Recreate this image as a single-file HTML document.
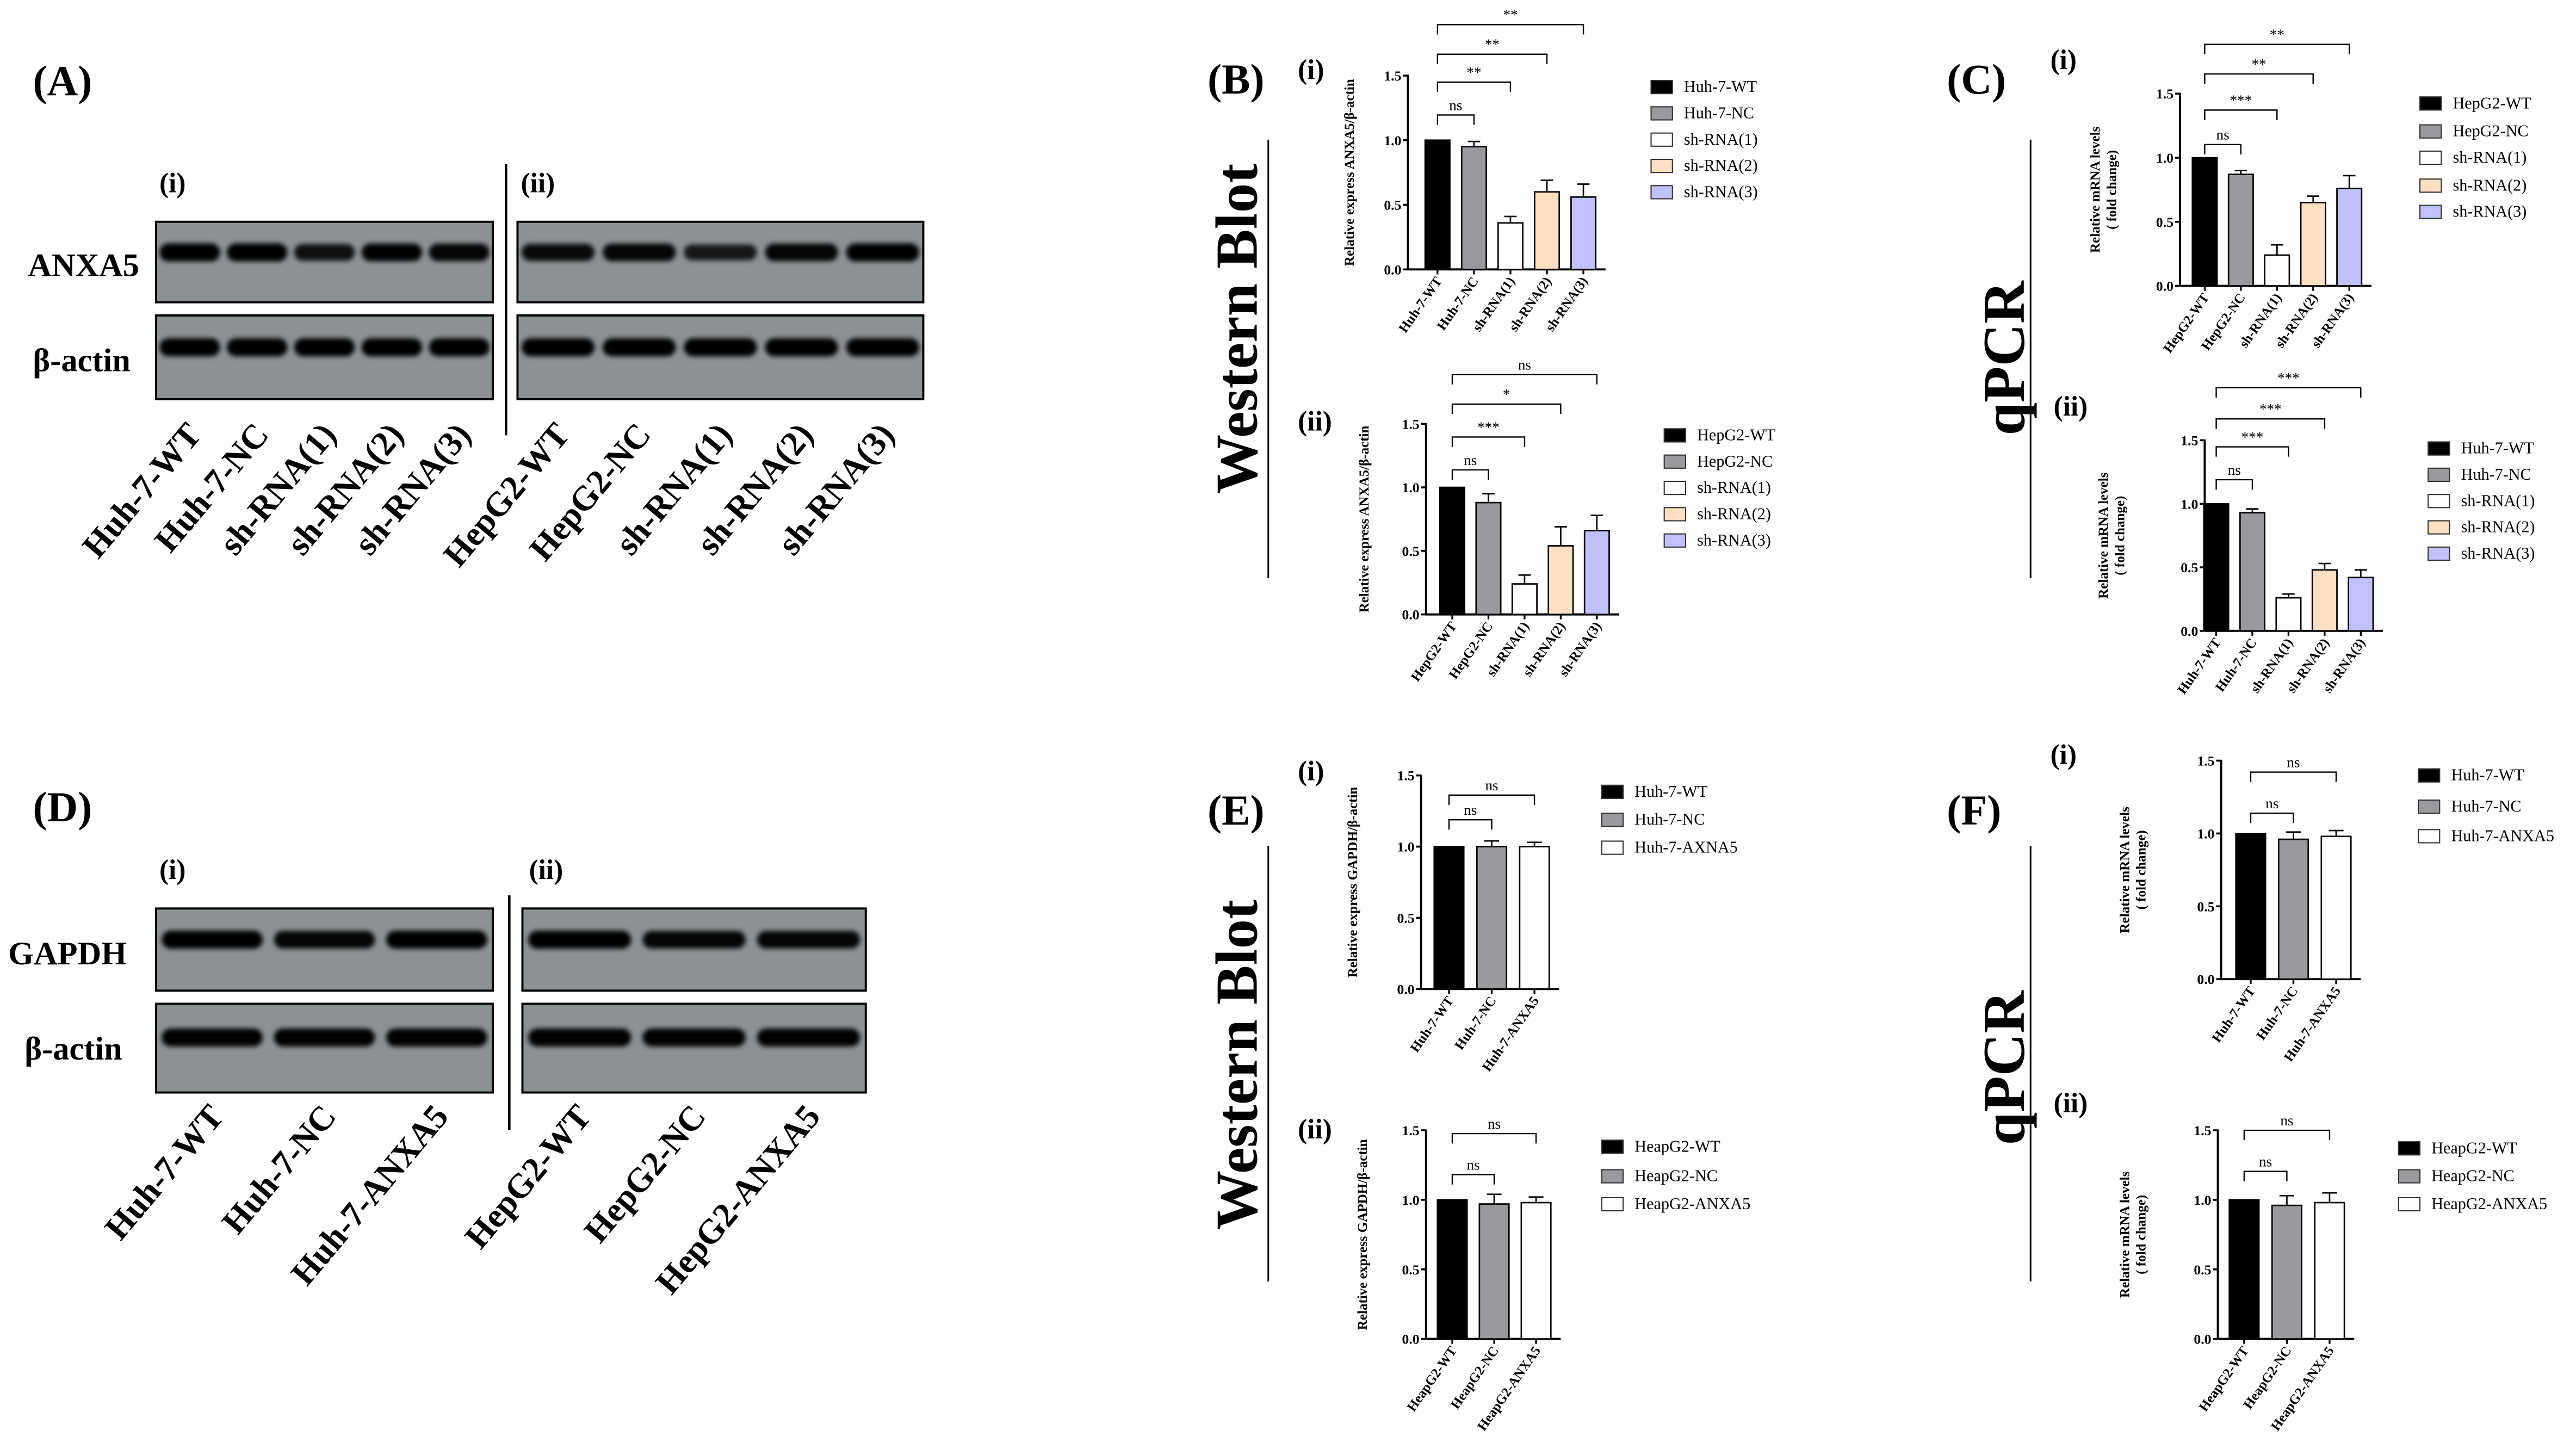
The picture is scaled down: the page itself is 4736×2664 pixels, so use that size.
<!DOCTYPE html>
<html><head><meta charset="utf-8">
<style>
html,body{margin:0;padding:0;background:#fff;}
svg{display:block;font-family:"Liberation Serif",serif;}
</style></head>
<body>
<svg id="fig" xmlns="http://www.w3.org/2000/svg" width="4736" height="2664" viewBox="0 0 1568 882" preserveAspectRatio="none">
<defs>
<filter id="blur" x="-20%" y="-50%" width="140%" height="200%"><feGaussianBlur stdDeviation="1.5"/></filter>
</defs>
<rect x="0" y="0" width="1568" height="882" fill="#fff"/>

<g font-weight="bold">
<text x="20" y="58" font-size="26">(A)</text>
<text x="97" y="117" font-size="17">(i)</text>
<text x="317" y="117" font-size="17">(ii)</text>
<text x="17" y="168" font-size="20">ANXA5</text>
<text x="20" y="226" font-size="20">β-actin</text>
<line x1="308" y1="100" x2="308" y2="265" stroke="#000" stroke-width="1.5"/>
</g>
<g id="blotsA"></g>

<g font-weight="bold">
<text x="20" y="500" font-size="26">(D)</text>
<text x="97" y="535" font-size="17">(i)</text>
<text x="322" y="535" font-size="17">(ii)</text>
<text x="5" y="587" font-size="20">GAPDH</text>
<text x="15" y="645" font-size="20">β-actin</text>
<line x1="310" y1="545" x2="310" y2="688" stroke="#000" stroke-width="1.5"/>
</g>
<g id="blotsD"></g>

<g font-weight="bold">
<text x="735" y="57" font-size="26">(B)</text>
<text x="790" y="48" font-size="17">(i)</text>
<text x="790" y="262" font-size="17">(ii)</text>
<text transform="translate(765,200) rotate(-90)" text-anchor="middle" font-size="36">Western Blot</text>
<line x1="772" y1="85" x2="772" y2="352" stroke="#000" stroke-width="1"/>

<text x="1185" y="57" font-size="26">(C)</text>
<text x="1248" y="42" font-size="17">(i)</text>
<text x="1250" y="253" font-size="17">(ii)</text>
<text transform="translate(1232,218) rotate(-90)" text-anchor="middle" font-size="36">qPCR</text>
<line x1="1236" y1="85" x2="1236" y2="352" stroke="#000" stroke-width="1"/>

<text x="735" y="502" font-size="26">(E)</text>
<text x="790" y="475" font-size="17">(i)</text>
<text x="790" y="693" font-size="17">(ii)</text>
<text transform="translate(765,648) rotate(-90)" text-anchor="middle" font-size="36">Western Blot</text>
<line x1="772" y1="515" x2="772" y2="780" stroke="#000" stroke-width="1"/>

<text x="1185" y="502" font-size="26">(F)</text>
<text x="1248" y="465" font-size="17">(i)</text>
<text x="1250" y="677" font-size="17">(ii)</text>
<text transform="translate(1232,650) rotate(-90)" text-anchor="middle" font-size="36">qPCR</text>
<line x1="1236" y1="515" x2="1236" y2="780" stroke="#000" stroke-width="1"/>
</g>
<g id="charts"></g>
</svg>

<script>
var NS = "http://www.w3.org/2000/svg";
function mk(tag, attrs, parent, txt) {
  var e = document.createElementNS(NS, tag);
  for (var k in attrs) e.setAttribute(k, attrs[k]);
  if (txt !== undefined) e.textContent = txt;
  parent.appendChild(e);
  return e;
}

var blotALanesI = ["Huh-7-WT", "Huh-7-NC", "sh-RNA(1)", "sh-RNA(2)", "sh-RNA(3)"];
var blotALanesII = ["HepG2-WT", "HepG2-NC", "sh-RNA(1)", "sh-RNA(2)", "sh-RNA(3)"];
var blotAAnxaI = [1.0, 1.0, 0.7, 0.95, 0.9];
var blotAAnxaII = [0.8, 0.9, 0.55, 0.9, 1.0];
var blotDLanesI = ["Huh-7-WT", "Huh-7-NC", "Huh-7-ANXA5"];
var blotDLanesII = ["HepG2-WT", "HepG2-NC", "HepG2-ANXA5"];

function blot(parent, x, w, rows, lanes, intens, labelY, fs) {
  rows.forEach(function (r, ri) {
    var rect = mk("rect", {x: x, y: r[0], width: w, height: r[1], fill: "#8c9194", stroke: "#000", "stroke-width": 1.3}, parent);
    
    
    var step = w / lanes.length;
    lanes.forEach(function (ln, i) {
      var cx = x + step * (i + 0.5);
      var it = ri === 0 ? intens[i] : 1.0;
      var h = 8 + 3 * it;
      var b = mk("rect", {x: cx - step * 0.45, y: r[0] + r[1] * 0.38 - h / 2, width: step * 0.9, height: h, rx: h / 2, fill: "#000", opacity: 0.65 + 0.35 * it, filter: "url(#blur)"}, parent);
      
      
    });
  });
  var step = w / lanes.length;
  lanes.forEach(function (ln, i) {
    var cx = x + step * (i + 0.5);
    var t = mk("text", {x: cx + 8, y: labelY, "text-anchor": "end", "font-size": fs, "font-weight": "bold", transform: "rotate(-50 " + (cx + 8) + " " + labelY + ")"}, parent, ln);
    
    
  });
}
var gA = document.getElementById("blotsA");
blot(gA, 95, 205, [[135, 49], [192, 51]], blotALanesI, blotAAnxaI, 265, 21);
blot(gA, 315, 247, [[135, 49], [192, 51]], blotALanesII, blotAAnxaII, 265, 21);
var gD = document.getElementById("blotsD");
blot(gD, 95, 205, [[553, 50], [611, 54]], blotDLanesI, [1, 0.9, 1], 680, 21);
blot(gD, 318, 209, [[553, 50], [611, 54]], blotDLanesII, [1, 0.9, 0.9], 680, 21);

var yTicks = [0.0, 0.5, 1.0, 1.5];
var yTickLabels = ["0.0", "0.5", "1.0", "1.5"];
var colors5 = ["#000000", "#9a9a9e", "#ffffff", "#fde0c2", "#c0c0fa"];
var colors3 = ["#000000", "#9a9a9e", "#ffffff"];

var bICats = ["Huh-7-WT", "Huh-7-NC", "sh-RNA(1)", "sh-RNA(2)", "sh-RNA(3)"];
var bIVals = [1.0, 0.95, 0.36, 0.60, 0.56];
var bIErrs = [0, 0.04, 0.05, 0.09, 0.10];
var bISig = ["ns", "**", "**", "**"];

var bIICats = ["HepG2-WT", "HepG2-NC", "sh-RNA(1)", "sh-RNA(2)", "sh-RNA(3)"];
var bIIVals = [1.0, 0.88, 0.24, 0.54, 0.66];
var bIIErrs = [0, 0.07, 0.07, 0.15, 0.12];
var bIISig = ["ns", "***", "*", "ns"];

var cICats = ["HepG2-WT", "HepG2-NC", "sh-RNA(1)", "sh-RNA(2)", "sh-RNA(3)"];
var cIVals = [1.0, 0.87, 0.24, 0.65, 0.76];
var cIErrs = [0, 0.03, 0.08, 0.05, 0.10];
var cISig = ["ns", "***", "**", "**"];

var cIICats = ["Huh-7-WT", "Huh-7-NC", "sh-RNA(1)", "sh-RNA(2)", "sh-RNA(3)"];
var cIIVals = [1.0, 0.93, 0.26, 0.48, 0.42];
var cIIErrs = [0, 0.03, 0.03, 0.05, 0.06];
var cIISig = ["ns", "***", "***", "***"];

var eICats = ["Huh-7-WT", "Huh-7-NC", "Huh-7-ANXA5"];
var eILegend = ["Huh-7-WT", "Huh-7-NC", "Huh-7-AXNA5"];
var eIVals = [1.0, 1.0, 1.0];
var eIErrs = [0, 0.04, 0.03];
var eISig = ["ns", "ns"];

var eIICats = ["HeapG2-WT", "HeapG2-NC", "HeapG2-ANXA5"];
var eIIVals = [1.0, 0.97, 0.98];
var eIIErrs = [0, 0.07, 0.04];
var eIISig = ["ns", "ns"];

var fICats = ["Huh-7-WT", "Huh-7-NC", "Huh-7-ANXA5"];
var fIVals = [1.0, 0.96, 0.98];
var fIErrs = [0, 0.05, 0.04];
var fISig = ["ns", "ns"];

var fIICats = ["HeapG2-WT", "HeapG2-NC", "HeapG2-ANXA5"];
var fIIVals = [1.0, 0.96, 0.98];
var fIIErrs = [0, 0.07, 0.07];
var fIISig = ["ns", "ns"];

var chartsG = document.getElementById("charts");

function chart(o) {
  var g = mk("g", {}, chartsG);
  
  
  var n = o.cats.length;
  function ys(v) { return o.y0 - v / 1.5 * (o.y0 - o.y1); }
  function xs(i) { return o.bx0 + i * o.step; }
  var bw = o.bw;
  var ya = mk("line", {x1: o.ax, y1: ys(1.5) - 0.5, x2: o.ax, y2: o.y0, stroke: "#000", "stroke-width": 1.3}, g);
  
  
  var xEnd = xs(n - 1) + bw / 2 + 6;
  var xa = mk("line", {x1: o.ax, y1: o.y0, x2: xEnd, y2: o.y0, stroke: "#000", "stroke-width": 1.3}, g);
  
  
  yTicks.forEach(function (t, i) {
    var tk = mk("line", {x1: o.ax - 3, y1: ys(t), x2: o.ax, y2: ys(t), stroke: "#000", "stroke-width": 1.2}, g);
    
    
    var tl = mk("text", {x: o.ax - 4, y: ys(t) + 3, "text-anchor": "end", "font-size": 8.5, "font-weight": "bold"}, g, yTickLabels[i]);
    
    
  });
  var tt = mk("text", {transform: "translate(" + o.tx + "," + ((o.y0 + ys(1.5)) / 2) + ") rotate(-90)", "text-anchor": "middle", "font-size": 8.3, "font-weight": "bold"}, g, o.ytitle[0]);
  
  
  if (o.ytitle[1]) {
    var tt2 = mk("text", {transform: "translate(" + (o.tx + 10) + "," + ((o.y0 + ys(1.5)) / 2) + ") rotate(-90)", "text-anchor": "middle", "font-size": 8.3, "font-weight": "bold"}, g, o.ytitle[1]);
    
    
  }
  o.cats.forEach(function (c, i) {
    var cx = xs(i);
    var top = ys(o.vals[i]);
    var b = mk("rect", {x: cx - bw / 2, y: top, width: bw, height: o.y0 - top, fill: o.colors[i], stroke: "#000", "stroke-width": 0.9}, g);
    
    
    if (o.errs[i] > 0) {
      var et = ys(o.vals[i] + o.errs[i]);
      var e1 = mk("line", {x1: cx, y1: top, x2: cx, y2: et, stroke: "#000", "stroke-width": 0.9}, g);
      
      
      var e2 = mk("line", {x1: cx - bw / 4, y1: et, x2: cx + bw / 4, y2: et, stroke: "#000", "stroke-width": 0.9}, g);
      
      
    }
    var xt = mk("line", {x1: cx, y1: o.y0, x2: cx, y2: o.y0 + 3, stroke: "#000", "stroke-width": 1.1}, g);
    
    
    var lx = cx + 3, ly = o.y0 + 7;
    var xl = mk("text", {x: lx, y: ly, "text-anchor": "end", "font-size": 8.3, "font-weight": "bold", transform: "rotate(-55 " + lx + " " + ly + ")"}, g, c);
    
    
  });
  o.sig.forEach(function (s, k) {
    var yb = o.brY[k];
    var x1 = xs(0), x2 = xs(k + 1);
    var p = mk("polyline", {points: x1 + "," + (yb + 6) + " " + x1 + "," + yb + " " + x2 + "," + yb + " " + x2 + "," + (yb + 6), fill: "none", stroke: "#000", "stroke-width": 0.8}, g);
    
    
    var st = mk("text", {x: (x1 + x2) / 2, y: yb - 3, "text-anchor": "middle", "font-size": 9}, g, s);
    
    
  });
  o.legend.forEach(function (l, i) {
    var ly = o.legY[i];
    var r = mk("rect", {x: o.legX, y: ly - 7, width: 13, height: 8, fill: o.colors[i], stroke: "#333", "stroke-width": 0.7}, g);
    
    
    var t = mk("text", {x: o.legX + 20, y: ly, "font-size": 10}, g, l);
    
    
  });
}

var wbTitleA = ["Relative express ANXA5/β-actin"];
var wbTitleG = ["Relative express GAPDH/β-actin"];
var qTitle = ["Relative mRNA levels", "( fold change)"];

chart({name: "chart-b-i", cats: bICats, vals: bIVals, errs: bIErrs, sig: bISig, legend: bICats, colors: colors5,
  ax: 857, y0: 164, y1: 46, bx0: 875, step: 22.2, bw: 15, tx: 824, ytitle: wbTitleA,
  brY: [70, 50, 33, 15], legX: 1005, legY: [56, 72, 88, 104, 120]});
chart({name: "chart-b-ii", cats: bIICats, vals: bIIVals, errs: bIIErrs, sig: bIISig, legend: bIICats, colors: colors5,
  ax: 868, y0: 374, y1: 258, bx0: 884, step: 22, bw: 15, tx: 833, ytitle: wbTitleA,
  brY: [286, 266, 246, 228], legX: 1013, legY: [268, 284, 300, 316, 332]});
chart({name: "chart-c-i", cats: cICats, vals: cIVals, errs: cIErrs, sig: cISig, legend: cICats, colors: colors5,
  ax: 1327, y0: 174, y1: 57, bx0: 1342, step: 22, bw: 15, tx: 1278, ytitle: qTitle,
  brY: [88, 67, 45, 27], legX: 1473, legY: [66, 83, 99, 116, 132]});
chart({name: "chart-c-ii", cats: cIICats, vals: cIIVals, errs: cIIErrs, sig: cIISig, legend: cIICats, colors: colors5,
  ax: 1342, y0: 384, y1: 268, bx0: 1349, step: 22, bw: 15, tx: 1283, ytitle: qTitle,
  brY: [292, 272, 255, 236], legX: 1478, legY: [276, 292, 308, 324, 340]});
chart({name: "chart-e-i", cats: eICats, vals: eIVals, errs: eIErrs, sig: eISig, legend: eILegend, colors: colors3,
  ax: 865, y0: 602, y1: 472, bx0: 882, step: 26, bw: 18, tx: 826, ytitle: wbTitleG,
  brY: [499, 484], legX: 975, legY: [485, 502, 519]});
chart({name: "chart-e-ii", cats: eIICats, vals: eIIVals, errs: eIIErrs, sig: eIISig, legend: eIICats, colors: colors3,
  ax: 868, y0: 815, y1: 688, bx0: 884, step: 25.5, bw: 18, tx: 832, ytitle: wbTitleG,
  brY: [715, 690], legX: 975, legY: [701, 719, 736]});
chart({name: "chart-f-i", cats: fICats, vals: fIVals, errs: fIErrs, sig: fISig, legend: fICats, colors: colors3,
  ax: 1352, y0: 596, y1: 463, bx0: 1370, step: 26, bw: 18, tx: 1296, ytitle: qTitle,
  brY: [495, 470], legX: 1472, legY: [475, 494, 512]});
chart({name: "chart-f-ii", cats: fIICats, vals: fIIVals, errs: fIIErrs, sig: fIISig, legend: fIICats, colors: colors3,
  ax: 1350, y0: 815, y1: 688, bx0: 1366, step: 26, bw: 18, tx: 1296, ytitle: qTitle,
  brY: [713, 688], legX: 1460, legY: [702, 719, 736]});
</script>
</body></html>
